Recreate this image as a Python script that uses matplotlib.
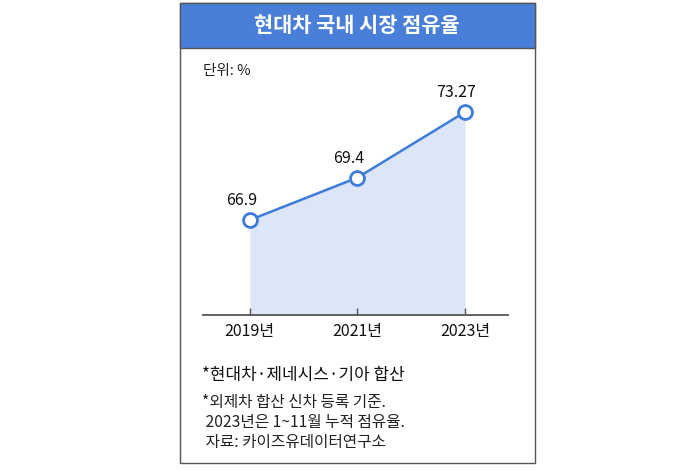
import matplotlib
matplotlib.use('Agg')
import matplotlib.pyplot as plt
from matplotlib.patches import Rectangle

plt.rcParams['font.family'] = ['Noto Sans CJK KR', 'DejaVu Sans']

# 데이터
years = [2019, 2021, 2023]
share = [66.9, 69.4, 73.27]
labels = ['66.9', '69.4', '73.27']
tick_labels = ['2019년', '2021년', '2023년']

W, H = 700, 470
fig = plt.figure(figsize=(W / 100, H / 100), dpi=100)
fig.patch.set_facecolor('white')


def px(x, y):
    # 픽셀 좌표 -> figure 비율
    return x / W, 1 - y / H


# 바깥 테두리, 제목 바
frame = Rectangle(px(180, 463), 355 / W, 460 / H, transform=fig.transFigure,
                  facecolor='white', edgecolor='#555555', linewidth=1.0, zorder=-2)
fig.patches.append(frame)
bar = Rectangle(px(180, 48), 355 / W, 45 / H, transform=fig.transFigure,
                facecolor='#4a7fd9', edgecolor='#555555', linewidth=1.0, zorder=-1)
fig.patches.append(bar)
fig.text(*px(357, 26), '현대차 국내 시장 점유율', color='white', fontsize=15,
         fontweight='bold', ha='center', va='center')
fig.text(*px(203, 71), '단위: %', color='#222222', fontsize=10.5, ha='left', va='center')

# 차트 영역
l, b = px(203, 315)
r, t = px(508, 60)
ax = fig.add_axes([l, b, r - l, t - b])
ax.set_zorder(2)
ax.set_facecolor('none')
ax.set_xlim(2018.13, 2023.8)
ax.set_ylim(61.3, 76.34)

ax.fill_between(years, share, 61.3, color='#dce6f7', linewidth=0, zorder=1)
ax.plot(years, share, color='#3d7bdc', linewidth=1.8, marker='o', markersize=10,
        markerfacecolor='white', markeredgecolor='#3d7bdc', markeredgewidth=2.0,
        zorder=3, clip_on=False)
for x, y, s in zip(years, share, labels):
    ax.annotate(s, (x, y), xytext=(-6, 14), textcoords='offset points',
                ha='center', va='center', fontsize=11.5, color='#111111')

for side in ['top', 'right', 'left']:
    ax.spines[side].set_visible(False)
ax.spines['bottom'].set_color('#555555')
ax.spines['bottom'].set_linewidth(1.3)
ax.set_yticks([])
ax.set_xticks(years)
ax.set_xticklabels(tick_labels, fontsize=11.5, color='#111111')
ax.tick_params(axis='x', direction='in', length=5, width=1, color='#555555', pad=6)

# 주석
fig.text(*px(202, 375), '*현대차·제네시스·기아 합산', fontsize=12.2, color='#111111',
         ha='left', va='center')
notes = ['*외제차 합산 신차 등록 기준.', ' 2023년은 1~11월 누적 점유율.', ' 자료: 카이즈유데이터연구소']
for i, s in enumerate(notes):
    fig.text(*px(202, 403 + i * 20), s, fontsize=11.3, color='#222222',
             ha='left', va='center')

fig.savefig('out.png', dpi=100)
